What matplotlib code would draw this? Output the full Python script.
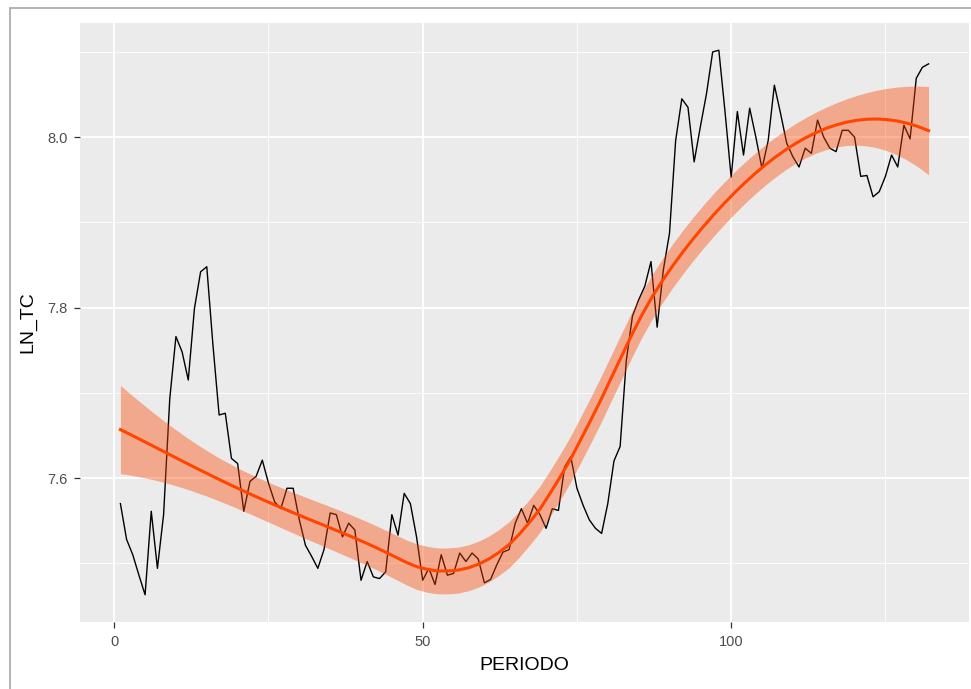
import numpy as np
import matplotlib.pyplot as plt
from matplotlib.patches import Rectangle

plt.rcParams['font.family'] = ['Liberation Sans', 'DejaVu Sans']

# LN_TC por periodo
ln_tc = [
    7.570, 7.528, 7.510, 7.486, 7.463, 7.561, 7.494, 7.557, 7.693, 7.766,
    7.748, 7.715, 7.799, 7.842, 7.848, 7.756, 7.674, 7.676, 7.623, 7.617,
    7.561, 7.596, 7.602, 7.621, 7.594, 7.572, 7.564, 7.588, 7.588, 7.551,
    7.521, 7.508, 7.494, 7.516, 7.559, 7.557, 7.531, 7.547, 7.539, 7.480,
    7.502, 7.484, 7.482, 7.490, 7.557, 7.533, 7.582, 7.570, 7.531, 7.480,
    7.494, 7.475, 7.510, 7.486, 7.488, 7.512, 7.502, 7.512, 7.505, 7.477,
    7.481, 7.498, 7.513, 7.516, 7.547, 7.564, 7.547, 7.568, 7.557, 7.541,
    7.564, 7.562, 7.613, 7.625, 7.588, 7.568, 7.551, 7.541, 7.535, 7.570,
    7.620, 7.637, 7.738, 7.790, 7.809, 7.825, 7.854, 7.777, 7.844, 7.887,
    7.996, 8.045, 8.035, 7.971, 8.012, 8.051, 8.100, 8.102, 8.030, 7.953,
    8.030, 7.979, 8.034, 8.000, 7.963, 7.996, 8.061, 8.028, 7.993, 7.977,
    7.965, 7.987, 7.981, 8.020, 8.000, 7.987, 7.983, 8.008, 8.008, 8.000,
    7.954, 7.955, 7.930, 7.936, 7.954, 7.979, 7.965, 8.014, 7.998, 8.069,
    8.082, 8.086,
]
periodo = list(range(1, len(ln_tc) + 1))

x_ticks = [0, 50, 100]
y_ticks = [7.6, 7.8, 8.0]
y_labels = ['7.6', '7.8', '8.0']


def loess_fit(x, y, x0, span=0.75):
    # local quadratic loess with tricube weights, like stats::loess
    n = len(x)
    q = int(np.floor(n * span))

    def rows(points):
        out = np.zeros((len(points), n))
        for k, p in enumerate(points):
            d = np.abs(x - p)
            h = np.sort(d)[q - 1]
            w = np.clip(1 - (d / h) ** 3, 0, None) ** 3
            X = np.column_stack([np.ones(n), x - p, (x - p) ** 2])
            A = X.T @ (w[:, None] * X)
            out[k] = np.linalg.solve(A, (X * w[:, None]).T)[0]
        return out

    L = rows(x)
    resid = y - L @ y
    M = (np.eye(n) - L).T @ (np.eye(n) - L)
    d1 = np.trace(M)
    d2 = np.trace(M @ M)
    sigma = np.sqrt(np.sum(resid ** 2) / d1)
    G = rows(x0)
    fit = G @ y
    se = sigma * np.sqrt(np.sum(G ** 2, axis=1))
    df = d1 ** 2 / d2
    z = 1.959964
    t = z + (z ** 3 + z) / (4 * df) + (5 * z ** 5 + 16 * z ** 3 + 3 * z) / (96 * df ** 2)
    return fit, fit - t * se, fit + t * se


x = np.array(periodo, dtype=float)
y = np.array(ln_tc)
grid = np.linspace(x.min(), x.max(), 80)
fit, lo, hi = loess_fit(x, y, grid)

fig = plt.figure(figsize=(9.71, 6.89), dpi=100)
ax = fig.add_axes([80 / 971, 67 / 689, 889 / 971, 599 / 689])
ax.set_facecolor('#EBEBEB')

ax.plot(x, y, color='black', lw=1.0, zorder=3)
ax.fill_between(grid, lo, hi, color='orangered', alpha=0.4, lw=0, zorder=4)
ax.plot(grid, fit, color='orangered', lw=2.2, zorder=5)

# ggplot-style 5% expansion
xr = x.max() - x.min()
yr = y.max() - y.min()
ax.set_xlim(x.min() - 0.05 * xr, x.max() + 0.05 * xr)
ax.set_ylim(y.min() - 0.05 * yr, y.max() + 0.05 * yr)

ax.set_xticks(x_ticks)
ax.set_xticks([25, 75, 125], minor=True)
ax.set_yticks(y_ticks)
ax.set_yticklabels(y_labels)
ax.set_yticks([7.5, 7.7, 7.9, 8.1], minor=True)
ax.grid(which='major', color='white', lw=1.3, zorder=0)
ax.grid(which='minor', color='white', lw=0.6, zorder=0)
ax.set_axisbelow(True)
for s in ax.spines.values():
    s.set_visible(False)
ax.tick_params(which='major', length=4, width=0.9, color='#333333',
               labelcolor='#4D4D4D', labelsize=10.5, pad=5)
ax.tick_params(which='minor', length=0)

ax.set_xlabel('PERIODO', fontsize=14, color='black', labelpad=6)
ax.set_ylabel('LN_TC', fontsize=14, color='black', labelpad=8)

fig.patches.append(Rectangle((10 / 971, -0.2), 1.2, 1.2 - 8 / 689 + 0.0,
                             transform=fig.transFigure, fill=False,
                             edgecolor='#A6A6A6', lw=1.2))

fig.savefig('out.png', dpi=100)
